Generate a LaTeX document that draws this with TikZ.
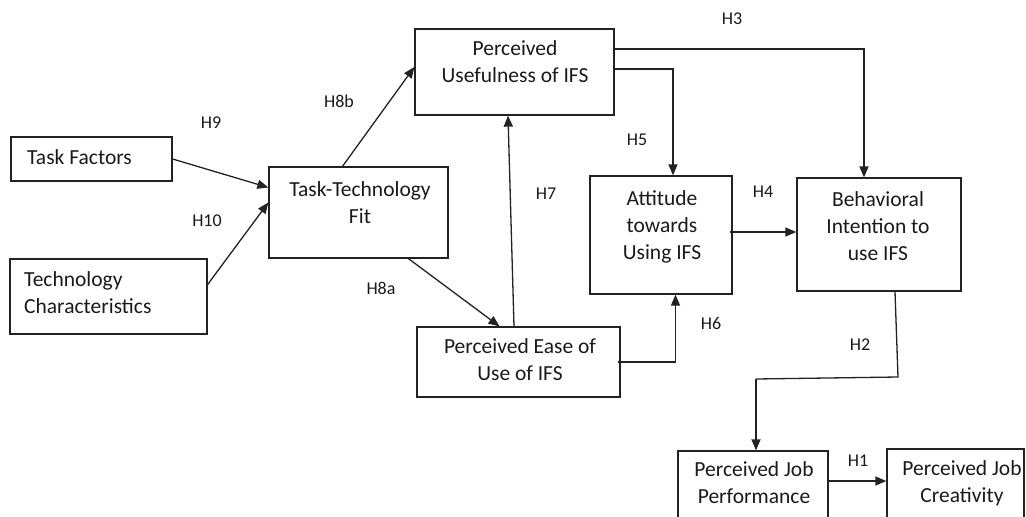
\documentclass[tikz,border=0pt]{standalone}
\usepackage{fontspec}
\setmainfont{Carlito}
\usetikzlibrary{arrows.meta}
\definecolor{textc}{HTML}{1A1A1A}
\definecolor{linec}{HTML}{222222}
\newcommand\mkbox[5]{\node[box, minimum width=#4pt, minimum height=#5pt] (#1) at (#2,#3) {};}
\begin{document}
\begin{tikzpicture}[x=1pt,y=-1pt,
  box/.style={draw=linec, line width=1.3pt, inner sep=0pt},
  txt/.style={font=\fontsize{21.5}{27}\selectfont, text=textc, align=center, inner sep=0pt, anchor=base},
  hyp/.style={font=\fontsize{18}{20}\selectfont, text=textc, inner sep=0pt},
  link/.style={draw=linec, line width=1.3pt, -{Triangle[length=11pt,width=9pt]}},
  plain/.style={draw=linec, line width=1.3pt}
  ]
\useasboundingbox (0,0) rectangle (1026,517);
\clip (0,0) rectangle (1026,517);

% construct boxes
\mkbox{tf}{91.5}{159}{161}{44}
\mkbox{tc}{108.5}{296.5}{197}{75}
\mkbox{ttf}{358.5}{212.5}{179}{91}
\mkbox{pu}{514.5}{72}{199}{86}
\mkbox{peou}{518.5}{362}{203}{70}
\mkbox{att}{661}{235}{142}{118}
\mkbox{bi}{879}{234.5}{164}{113}
\mkbox{pjp}{753}{493}{150}{84}
\mkbox{pjc}{955.5}{492}{137}{86}

% box texts (anchored at the baseline of the last line)
\node[txt, anchor=base west] (tft) at (27,164) {Task Factors};
\node[txt, anchor=base west, align=left] (tct) at (24,313) {Technology\\Characteristics};
\node[txt] (ttft) at (360,223) {Task-Technology\\Fit};
\node[txt] (put) at (515,82) {Perceived\\Usefulness of IFS};
\node[txt] (peout) at (520,380) {Perceived Ease of\\Use of IFS};
\node[txt] (attt) at (662,259) {Attitude\\towards\\Using IFS};
\node[txt] (bit) at (878,260) {Behavioral\\Intention to\\use IFS};
\node[txt] (pjpt) at (754,503) {Perceived Job\\Performance};
\node[txt] (pjct) at (962,502) {Perceived Job\\Creativity};

% hypothesis labels
\node[hyp] (h9) at (211,123) {H9};
\node[hyp] (h10) at (207,221) {H10};
\node[hyp] (h8b) at (339,101) {H8b};
\node[hyp] (h8a) at (381,288) {H8a};
\node[hyp] (h7) at (546,194) {H7};
\node[hyp] (h5) at (637,140) {H5};
\node[hyp] (h3) at (732,19) {H3};
\node[hyp] (h4) at (763,192) {H4};
\node[hyp] (h6) at (711,323) {H6};
\node[hyp] (h2) at (860,345) {H2};
\node[hyp] (h1) at (858,461) {H1};

% paths between constructs
\draw[link] (tf.east) -- ([yshift=25pt]ttf.west);
\draw[link] ([yshift=12pt]tc.east) -- ([yshift=10pt]ttf.west);
\draw[link] ([xshift=-16pt]ttf.north) -- ([yshift=5pt]pu.west);
\draw[link] ([xshift=50pt]ttf.south) -- ([xshift=-19pt]peou.north);
\draw[link] ([xshift=-4.5pt]peou.north) -- ([xshift=-6.5pt]pu.south);
\draw[link] ([yshift=3pt]pu.east) -| ([xshift=12pt]att.north);
\draw[link] ([yshift=23pt]pu.east) -| ([xshift=-15pt]bi.north);
\coordinate (a4) at ([yshift=3pt,xshift=-3pt]att.east);
\draw[link] (a4) -- (a4 -| bi.west);
\draw[link] ([xshift=-3pt]peou.east) -| ([xshift=14.5pt]att.south);
\coordinate (h2a) at (898,377);
\coordinate (h2b) at (756,379);
\draw[plain] ([xshift=16pt]bi.south) -- (h2a) -- (h2b);
\draw[link] (h2b) -- (h2b |- pjp.north);
\coordinate (a1) at ([yshift=12pt]pjp.east);
\draw[link] (a1) -- (a1 -| pjc.west);
\end{tikzpicture}
\end{document}
